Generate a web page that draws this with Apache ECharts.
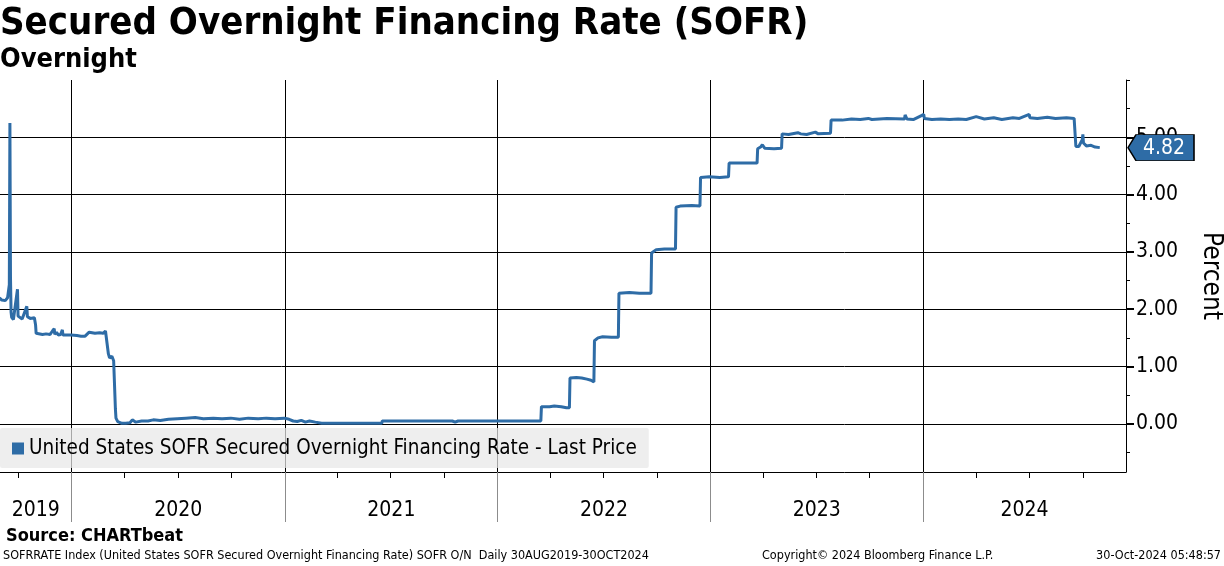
<!DOCTYPE html>
<html>
<head>
<meta charset="utf-8">
<script src="https://cdn.jsdelivr.net/npm/echarts@6/dist/echarts.min.js"></script>
<style>
html,body{margin:0;padding:0;background:#fff;}
#c{width:1224px;height:566px;}
</style>
</head>
<body>
<div id="c"></div>
<script>
// ---- Data ----
const dates = [
'2019-08-30','2019-09-03','2019-09-05','2019-09-09','2019-09-11','2019-09-13','2019-09-16','2019-09-17','2019-09-18','2019-09-19',
'2019-09-20','2019-09-23','2019-09-26','2019-09-30','2019-10-01','2019-10-04','2019-10-08','2019-10-11','2019-10-16','2019-10-17',
'2019-10-22','2019-10-25','2019-10-29','2019-10-31','2019-11-01','2019-11-04','2019-11-12','2019-11-18','2019-11-25','2019-11-29',
'2019-12-02','2019-12-03','2019-12-06','2019-12-09','2019-12-13','2019-12-16','2019-12-17','2019-12-23','2019-12-31','2020-01-02',
'2020-01-10','2020-01-17','2020-01-24','2020-01-31','2020-02-03','2020-02-10','2020-02-18','2020-02-24','2020-02-28','2020-03-02',
'2020-03-04','2020-03-06','2020-03-10','2020-03-13','2020-03-16','2020-03-17','2020-03-20','2020-03-27','2020-04-03','2020-04-10',
'2020-04-14','2020-04-20','2020-04-30','2020-05-11','2020-05-20','2020-06-01','2020-06-15','2020-06-30','2020-07-15','2020-07-31',
'2020-08-14','2020-08-31','2020-09-15','2020-09-30','2020-10-15','2020-10-30','2020-11-16','2020-11-30','2020-12-15','2020-12-31',
'2021-01-08','2021-01-15','2021-01-22','2021-01-29','2021-02-05','2021-02-12','2021-02-22','2021-03-05','2021-06-16','2021-06-17',
'2021-10-15','2021-10-20','2021-10-25','2022-03-16','2022-03-17','2022-03-31','2022-04-08','2022-04-20','2022-04-29','2022-05-04',
'2022-05-05','2022-05-16','2022-05-25','2022-06-03','2022-06-10','2022-06-15','2022-06-16','2022-06-22','2022-06-30','2022-07-15',
'2022-07-27','2022-07-28','2022-08-15','2022-09-01','2022-09-21','2022-09-22','2022-09-30','2022-10-14','2022-11-02','2022-11-03',
'2022-11-10','2022-11-30','2022-12-14','2022-12-15','2022-12-30','2023-01-17','2023-02-01','2023-02-02','2023-02-28','2023-03-22',
'2023-03-23','2023-03-28','2023-03-31','2023-04-04','2023-04-20','2023-05-03','2023-05-04','2023-05-15','2023-05-31','2023-06-05',
'2023-06-15','2023-06-30','2023-07-05','2023-07-26','2023-07-27','2023-08-15','2023-08-31','2023-09-15','2023-09-29','2023-10-02',
'2023-10-05','2023-10-31','2023-11-01','2023-11-02','2023-11-30','2023-12-01','2023-12-04','2023-12-15','2023-12-29','2024-01-02',
'2024-01-03','2024-01-16','2024-01-31','2024-02-15','2024-03-01','2024-03-15','2024-04-01','2024-04-02','2024-04-15','2024-05-01',
'2024-05-02','2024-05-15','2024-06-03','2024-06-04','2024-06-14','2024-07-01','2024-07-02','2024-07-15','2024-08-01','2024-08-02',
'2024-08-15','2024-09-03','2024-09-16','2024-09-18','2024-09-19','2024-09-24','2024-09-30','2024-10-01','2024-10-02','2024-10-07',
'2024-10-15','2024-10-22','2024-10-30'
];
const sofr = [
2.20,2.16,2.14,2.15,2.16,2.20,2.43,5.25,2.55,1.95,
1.86,1.82,1.85,2.35,1.88,1.85,1.83,1.84,2.05,1.87,
1.84,1.83,1.85,1.73,1.58,1.56,1.56,1.57,1.56,1.62,
1.66,1.56,1.60,1.55,1.56,1.64,1.55,1.55,1.55,1.54,
1.54,1.53,1.53,1.60,1.59,1.58,1.59,1.58,1.62,1.60,
1.22,1.15,1.18,1.10,0.26,0.10,0.04,0.01,0.01,0.02,
0.07,0.03,0.05,0.05,0.07,0.06,0.08,0.09,0.10,0.11,
0.09,0.10,0.09,0.10,0.08,0.10,0.09,0.10,0.09,0.10,
0.08,0.05,0.04,0.06,0.03,0.05,0.03,0.01,0.01,0.05,
0.05,0.03,0.05,0.05,0.30,0.30,0.31,0.30,0.28,0.28,
0.80,0.81,0.80,0.78,0.76,0.73,1.45,1.50,1.52,1.51,
1.51,2.28,2.29,2.28,2.28,2.98,3.04,3.05,3.05,3.78,
3.80,3.81,3.80,4.30,4.31,4.30,4.31,4.55,4.55,4.55,
4.80,4.83,4.87,4.81,4.80,4.81,5.06,5.05,5.08,5.06,
5.05,5.09,5.06,5.07,5.30,5.30,5.32,5.31,5.33,5.35,
5.31,5.33,5.36,5.31,5.32,5.39,5.32,5.31,5.38,5.40,
5.33,5.31,5.32,5.31,5.32,5.31,5.36,5.33,5.32,5.34,
5.31,5.31,5.34,5.33,5.33,5.40,5.34,5.33,5.35,5.33,
5.33,5.34,5.33,5.35,4.84,4.84,4.96,5.05,4.90,4.85,
4.86,4.83,4.82
];
const seriesName = 'United States SOFR Secured Overnight Financing Rate - Last Price';
const xMin = '2019-08-31';
const xMax = '2024-12-14';
const yearStarts = ['2020-01-01','2021-01-01','2022-01-01','2023-01-01','2024-01-01'];
const quarterTicks = ['2019-10-01','2020-04-01','2020-07-01','2020-10-01','2021-04-01','2021-07-01','2021-10-01',
  '2022-04-01','2022-07-01','2022-10-01','2023-04-01','2023-07-01','2023-10-01','2024-04-01','2024-07-01','2024-10-01'];
const yLabelValues = [0, 1, 2, 3, 4, 5];
const yMinorValues = [-0.5, 0.5, 1.5, 2.5, 3.5, 4.5, 5.5, 6];

// ---- Build ----
const t = s => new Date(s + 'T00:00:00Z').getTime();
const lineData = dates.map((d, i) => [t(d), sofr[i]]);
const bounds = [t(xMin)].concat(yearStarts.map(t), [t(xMax)]);
const yearLabelPos = [];
for (let i = 0; i < bounds.length - 1; i++) yearLabelPos.push((bounds[i] + bounds[i + 1]) / 2);
const lastVal = sofr[sofr.length - 1];

const FONT = "'DejaVu Sans Condensed', 'DejaVu Sans', sans-serif";
const BLUE = '#2e6ca6';

const chart = echarts.init(document.getElementById('c'), null, {renderer: 'canvas'});
chart.setOption({
  animation: false,
  backgroundColor: '#fff',
  textStyle: {fontFamily: FONT},
  title: [
    {text: 'Secured Overnight Financing Rate (SOFR)', left: 0, top: 5, padding: 0,
     textStyle: {fontFamily: FONT, fontSize: 38, fontWeight: 'bold', color: '#000'}},
    {text: 'Overnight', left: 0, top: 46, padding: 0,
     textStyle: {fontFamily: FONT, fontSize: 27, fontWeight: 'bold', color: '#000'}},
    {text: 'Source: CHARTbeat', left: 6, top: 527, padding: 0,
     textStyle: {fontFamily: FONT, fontSize: 18, fontWeight: 'bold', color: '#000'}},
    {text: 'SOFRRATE Index (United States SOFR Secured Overnight Financing Rate) SOFR O/N  Daily 30AUG2019-30OCT2024', left: 3, top: 549, padding: 0,
     textStyle: {fontFamily: FONT, fontSize: 12.5, fontWeight: 'normal', color: '#000'}},
    {text: 'Copyright\u00a9 2024 Bloomberg Finance L.P.', left: 762, top: 549, padding: 0,
     textStyle: {fontFamily: FONT, fontSize: 12.5, fontWeight: 'normal', color: '#000'}},
    {text: '30-Oct-2024 05:48:57', right: 3, top: 549, padding: 0,
     textStyle: {fontFamily: FONT, fontSize: 12.5, fontWeight: 'normal', color: '#000'}}
  ],
  legend: {
    left: 0, top: 428, orient: 'horizontal',
    backgroundColor: 'rgba(232,232,232,0.72)',
    borderRadius: 2,
    padding: [10, 12, 9, 12],
    itemWidth: 12, itemHeight: 12, icon: 'rect',
    textStyle: {fontFamily: FONT, fontSize: 20.5, color: '#000'},
    data: [{name: seriesName, itemStyle: {color: BLUE}}]
  },
  grid: {left: 0, right: 98, top: 80, bottom: 94, containLabel: false, outerBoundsMode: 'none'},
  xAxis: [
    {
      type: 'value', min: t(xMin), max: t(xMax), position: 'bottom',
      axisLine: {show: true, onZero: false, lineStyle: {color: '#000', width: 1}},
      axisTick: {show: true, length: 6, lineStyle: {color: '#000'}, customValues: quarterTicks.map(t)},
      axisLabel: {show: false},
      splitLine: {show: false}
    },
    {
      type: 'value', min: t(xMin), max: t(xMax), position: 'bottom',
      axisLine: {show: false, onZero: false},
      axisTick: {show: true, length: 50, lineStyle: {color: '#8c8c8c'}, customValues: yearStarts.map(t)},
      splitLine: {show: true, lineStyle: {color: '#000', width: 1}},
      axisLabel: {show: true, customValues: yearLabelPos, margin: 28, color: '#000', fontSize: 21, fontFamily: FONT,
        formatter: v => String(new Date(v).getUTCFullYear())}
    }
  ],
  yAxis: [
    {
      type: 'value', position: 'right', min: -0.84, max: 6,
      name: 'Percent', nameLocation: 'middle', nameRotate: -90, nameGap: 72,
      nameTextStyle: {fontFamily: FONT, fontSize: 26, color: '#000'},
      axisLine: {show: true, onZero: false, lineStyle: {color: '#000', width: 1}},
      axisTick: {show: true, length: 8, lineStyle: {color: '#000', width: 2}, customValues: yLabelValues},
      axisLabel: {show: true, customValues: yLabelValues, margin: 10, color: '#000', fontSize: 21, fontFamily: FONT,
        formatter: v => v.toFixed(2)},
      splitLine: {show: true, lineStyle: {color: '#000', width: 1}}
    },
    {
      type: 'value', position: 'right', min: -0.84, max: 6,
      axisLine: {show: false, onZero: false},
      axisTick: {show: true, length: 4, lineStyle: {color: '#000'}, customValues: yMinorValues},
      axisLabel: {show: false},
      splitLine: {show: false}
    }
  ],
  series: [{
    name: seriesName, type: 'line', xAxisIndex: 0, yAxisIndex: 0,
    data: lineData, showSymbol: false, clip: false,
    lineStyle: {color: BLUE, width: 3}, itemStyle: {color: BLUE},
    z: 3,
    markPoint: {
      symbol: 'path://M0,13 L8,0 L66,0 L66,26 L8,26 Z',
      symbolSize: [66, 26], symbolKeepAspect: false, symbolOffset: [35, 0],
      itemStyle: {color: BLUE, borderColor: '#000', borderWidth: 1},
      label: {show: true, position: 'inside', color: '#fff', fontSize: 21, fontFamily: FONT, offset: [3, 1],
        formatter: p => Number(p.value).toFixed(2)},
      data: [{coord: [t(xMax), lastVal], value: lastVal}],
      z: 10
    }
  }]
});
</script>
</body>
</html>
